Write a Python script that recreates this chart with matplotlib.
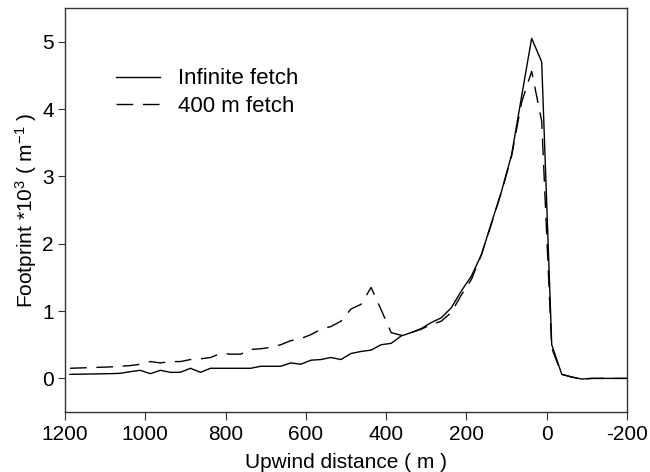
import matplotlib
matplotlib.use("Agg")
import matplotlib.pyplot as plt

plt.rcParams['font.family'] = ['Liberation Sans', 'DejaVu Sans']
plt.rcParams['mathtext.default'] = 'regular'

# Upwind distance (m), centres of 25 m bins
distance = [1187.5, 1162.5, 1137.5, 1112.5, 1087.5, 1062.5, 1037.5, 1012.5,
            987.5, 962.5, 937.5, 912.5, 887.5, 862.5, 837.5, 812.5,
            787.5, 762.5, 737.5, 712.5, 687.5, 662.5, 637.5, 612.5,
            587.5, 562.5, 537.5, 512.5, 487.5, 462.5, 437.5, 412.5,
            387.5, 362.5, 337.5, 312.5, 287.5, 262.5, 237.5, 212.5,
            187.5, 162.5, 137.5, 112.5, 87.5, 62.5, 37.5, 12.5,
            -12.5, -37.5, -62.5, -87.5, -112.5, -137.5, -162.5, -187.5, -212.5]

infinite_fetch = [0.06, 0.062, 0.065, 0.068, 0.07, 0.075, 0.10, 0.12,
                  0.07, 0.12, 0.09, 0.09, 0.15, 0.09, 0.15, 0.15,
                  0.15, 0.15, 0.15, 0.18, 0.18, 0.18, 0.23, 0.21,
                  0.27, 0.28, 0.31, 0.28, 0.37, 0.40, 0.42, 0.50,
                  0.52, 0.63, 0.68, 0.74, 0.83, 0.90, 1.05, 1.30,
                  1.52, 1.84, 2.31, 2.78, 3.32, 4.19, 5.05, 4.70,
                  0.50, 0.06, 0.02, -0.01, 0.0, 0.0, 0.0, 0.0, 0.0]

fetch_400 = [0.15, 0.155, 0.16, 0.165, 0.17, 0.18, 0.19, 0.21,
             0.25, 0.23, 0.25, 0.25, 0.28, 0.29, 0.31, 0.37,
             0.36, 0.36, 0.43, 0.44, 0.46, 0.50, 0.56, 0.59,
             0.65, 0.73, 0.77, 0.85, 1.03, 1.10, 1.35, 1.02,
             0.68, 0.64, 0.68, 0.73, 0.80, 0.85, 0.98, 1.24,
             1.47, 1.84, 2.30, 2.77, 3.30, 4.10, 4.56, 3.82,
             0.45, 0.06, 0.02, -0.01, 0.0, 0.0, 0.0, 0.0, 0.0]

xticks = [1200, 1000, 800, 600, 400, 200, 0, -200]
yticks = [0, 1, 2, 3, 4, 5]

fig = plt.figure(figsize=(6.5, 4.72), dpi=100)
ax = fig.add_axes([0.1, 0.127, 0.8646, 0.856])

ax.plot(distance, infinite_fetch, color='black', lw=1.0, label='Infinite fetch')
ax.plot(distance, fetch_400, color='black', lw=1.0, dashes=(12, 7), label='400 m fetch')

ax.set_xlim(1200, -200)
ax.set_ylim(-0.5, 5.5)
ax.set_xticks(xticks)
ax.set_xticklabels([str(t) for t in xticks])
ax.set_yticks(yticks)

for s in ax.spines.values():
    s.set_color('#333333')
    s.set_linewidth(1.0)

ax.tick_params(axis='both', direction='out', labelsize=15, color='#333333')
ax.tick_params(axis='x', length=6, pad=3)
ax.tick_params(axis='y', length=5, pad=3)

ax.set_xlabel('Upwind distance ( m )', fontsize=15, labelpad=7)
ax.set_ylabel('Footprint *10$^3$ ( m$^{-1}$ )', fontsize=15, labelpad=2)

ax.legend(loc='upper left', bbox_to_anchor=(0.055, 0.90), frameon=False,
          fontsize=16, handlelength=2.0, handletextpad=0.8, labelspacing=0.3)

fig.savefig('out.png', dpi=100)
